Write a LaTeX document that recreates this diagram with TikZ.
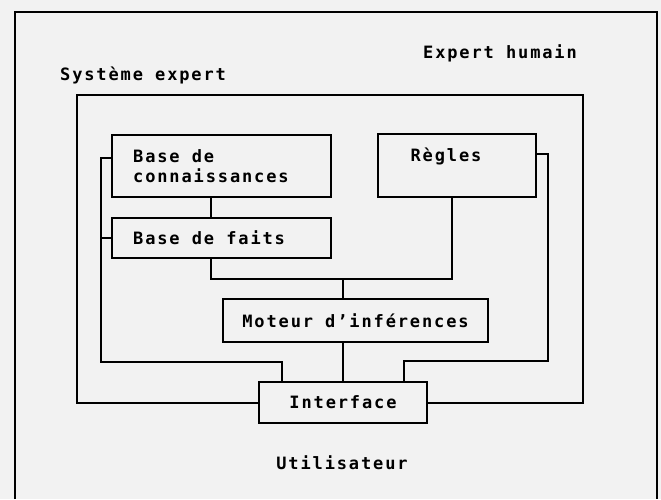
\documentclass[tikz,border=0pt]{standalone}
\usepackage{fontspec}
\newfontfamily\diafont{DejaVu Sans Mono}[LetterSpace=11]
\definecolor{paper}{gray}{0.95}
\tikzset{
  x=1pt, y=-1pt,
  every node/.style={font=\diafont\bfseries\fontsize{17}{20}\selectfont, text=black},
  wire/.style={draw=black, line width=1.6pt, line join=miter},
  boxnode/.style={draw=black, line width=1.6pt, fill=paper, rectangle, inner sep=0pt},
  plain/.style={inner sep=0pt},
  lefttext/.style={inner sep=0pt, anchor=west}
}
\begin{document}
\begin{tikzpicture}
\useasboundingbox[fill=paper] (0,0) rectangle (661,499);
% outer frame (Expert humain)
\coordinate (oBL) at (15,499);
\coordinate (oTL) at (15,12);
\coordinate (oTR) at (657,12);
\coordinate (oBR) at (657,499);
\draw[wire] (oBL) -- (oTL) -- (oTR) -- (oBR);
\node[plain] (expert) at (500,53) {Expert humain};
% Systeme expert box
\node[boxnode, fill=none, minimum width=506pt, minimum height=308pt] (systeme) at (330,249) {};
\node[lefttext] (systemelab) at (60,75) {Système expert};
% inner boxes
\node[boxnode, minimum width=219pt, minimum height=62pt] (bdc) at (221.5,166) {};
\node[lefttext] (bdc1) at (133,156) {Base de};
\node[lefttext] (bdc2) at (133,176) {connaissances};
\node[boxnode, minimum width=219pt, minimum height=40pt] (bdf) at (221.5,238) {};
\node[lefttext] (bdftxt) at (133,238) {Base de faits};
\node[boxnode, minimum width=158pt, minimum height=63pt] (regles) at (457,165.5) {};
\node[plain] (reglestxt) at (446,156) {Règles};
\node[boxnode, minimum width=265pt, minimum height=43pt] (moteur) at (355.5,320.5) {Moteur d’inférences};
% junctions
\coordinate (jA) at (211,279);
\coordinate (jB) at (452,279);
\coordinate (jC) at (343,279);
\coordinate (lTop) at (101,158);
\coordinate (lBot) at (101,362);
\coordinate (lIn) at (282,362);
\coordinate (rTop) at (548,154);
\coordinate (rBot) at (548,361);
\coordinate (rIn) at (404,361);
\node[boxnode, minimum width=168pt, minimum height=41pt] (interface) at (343,402.5) {Interface};
% connectors
\draw[wire] (bdc.south -| jA) -- (bdf.north -| jA);
\draw[wire] (bdf.south -| jA) -- (jA) -- (jB) -- (regles.south -| jB);
\draw[wire] (jC) -- (moteur.north -| jC);
\draw[wire] (moteur.south -| jC) -- (interface.north -| jC);
\draw[wire] (lTop -| bdc.west) -- (lTop) -- (lBot) -- (lIn) -- (interface.north -| lIn);
\draw[wire] (lTop |- bdf.west) -- (bdf.west);
\draw[wire] (rTop -| regles.east) -- (rTop) -- (rBot) -- (rIn) -- (interface.north -| rIn);
\node[plain] (utilisateur) at (342,463) {Utilisateur};
\end{tikzpicture}
\end{document}
